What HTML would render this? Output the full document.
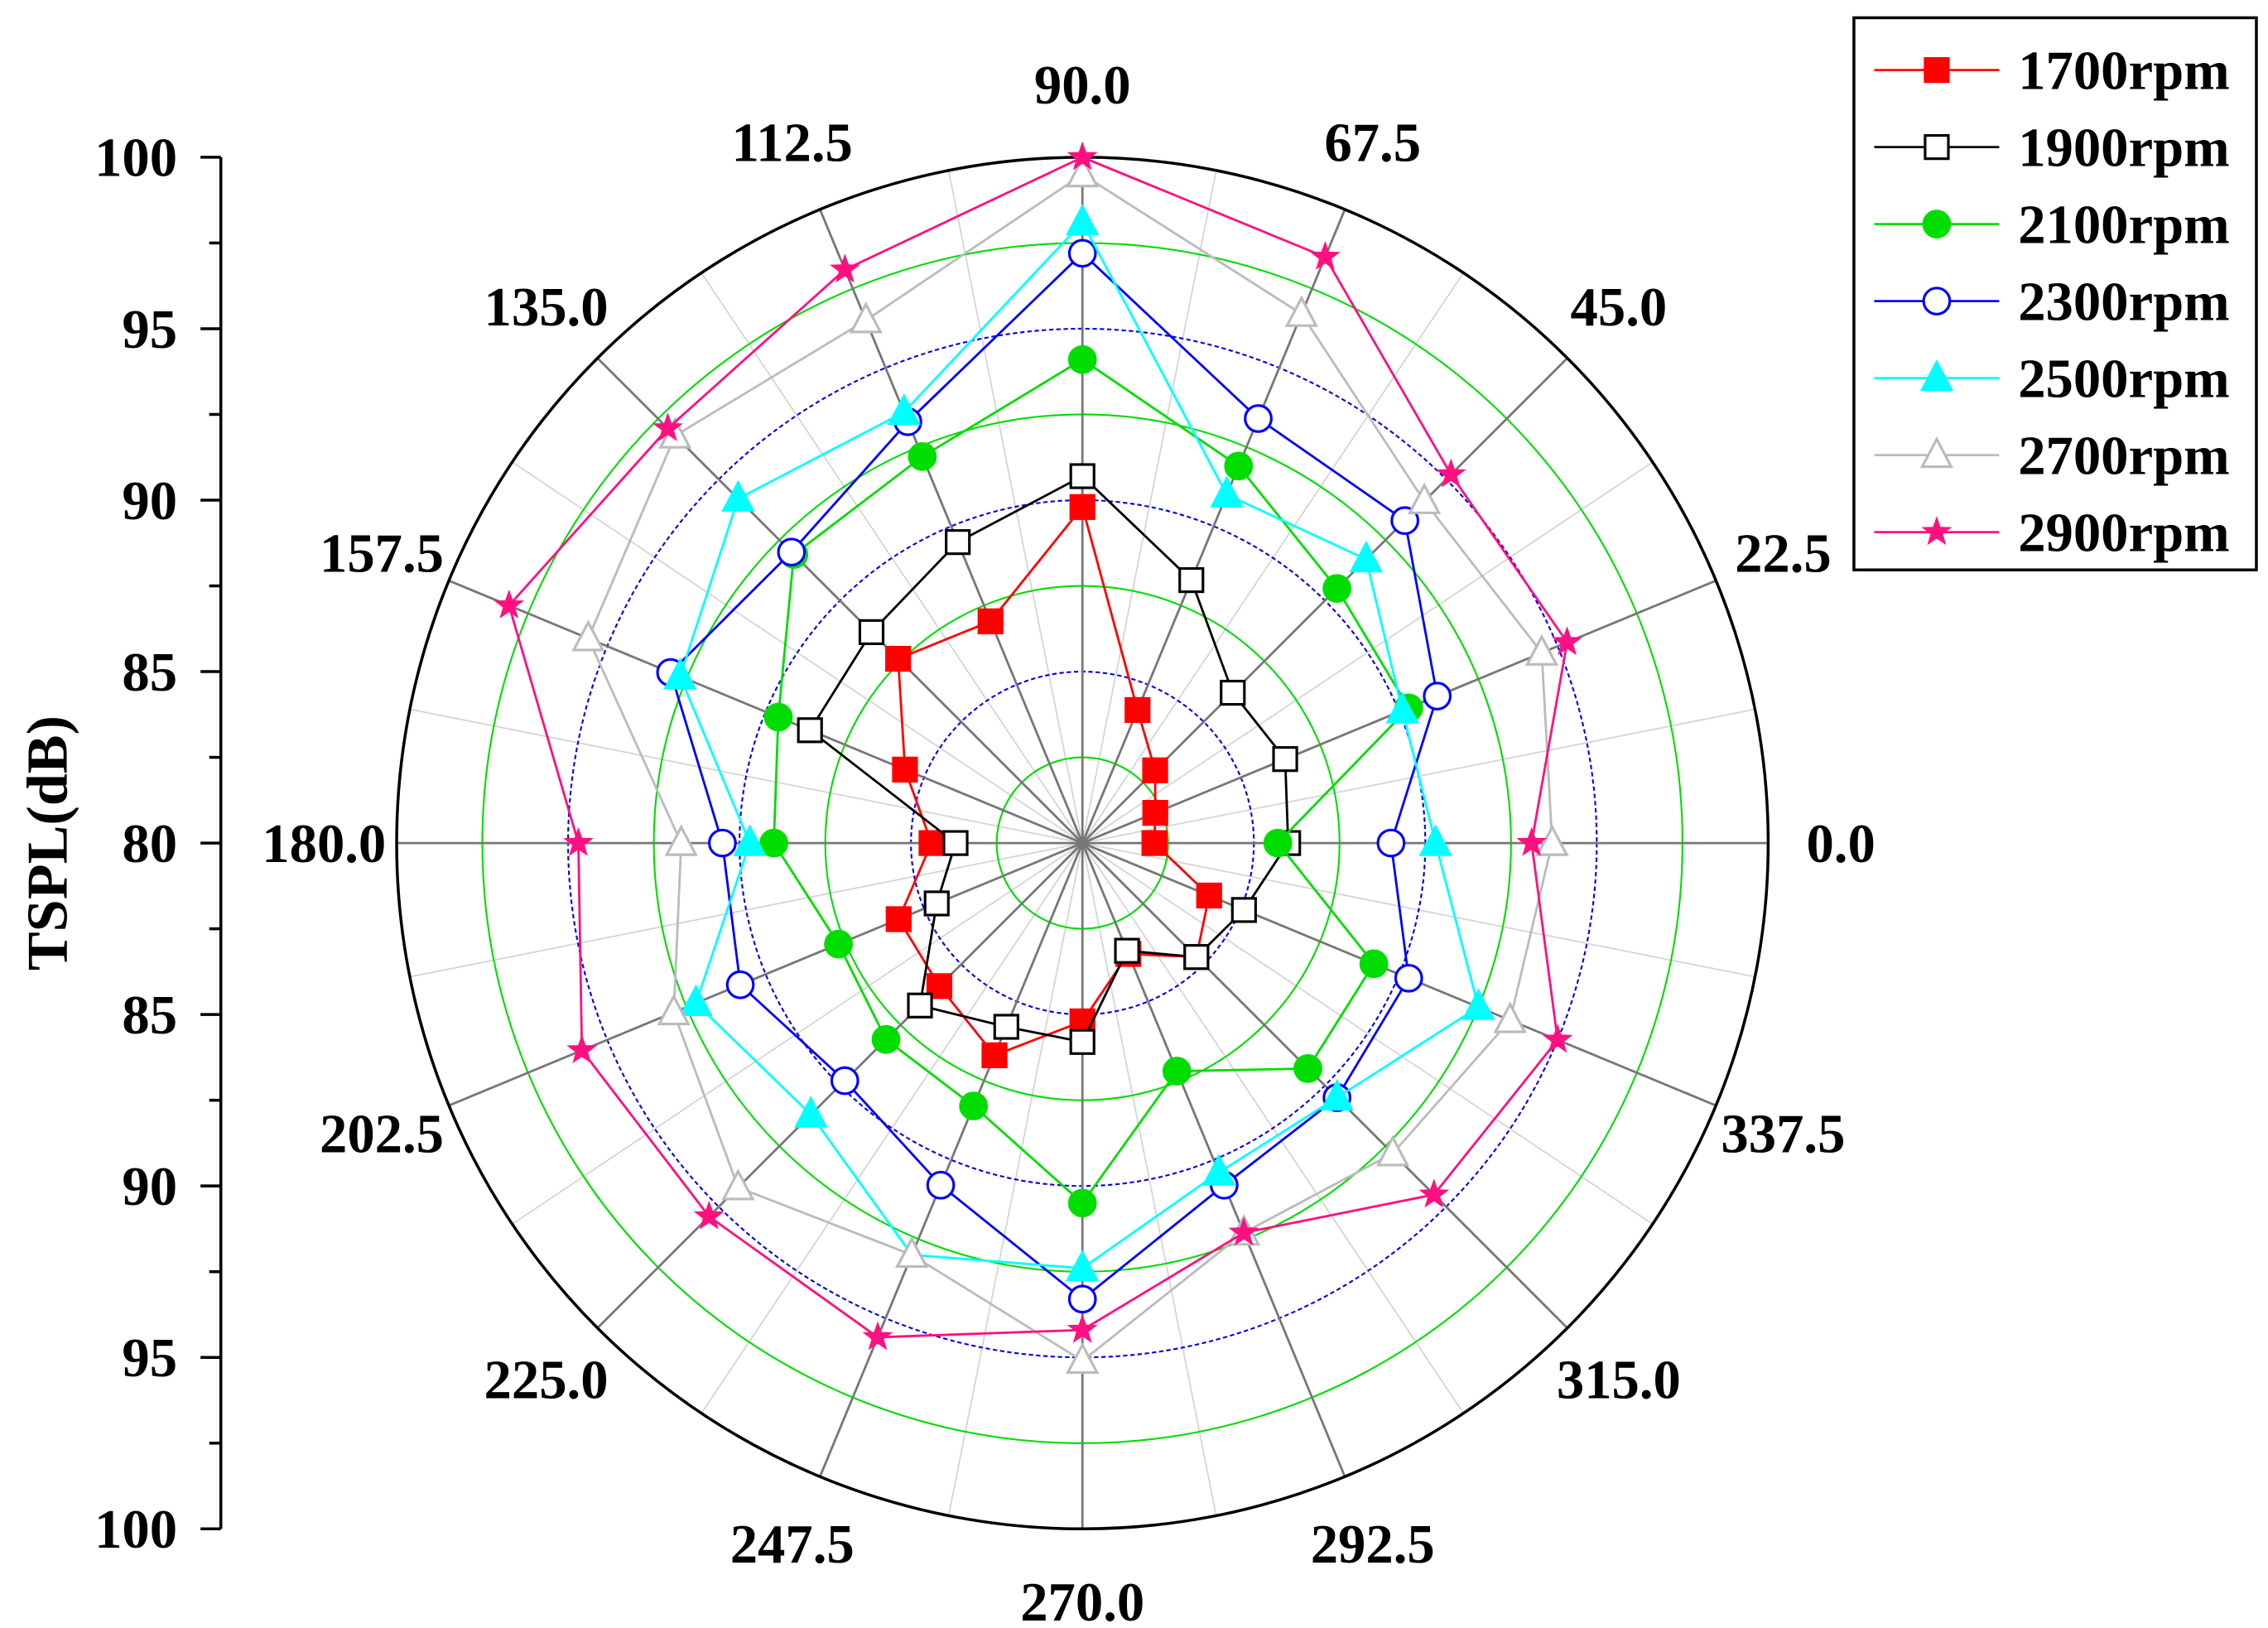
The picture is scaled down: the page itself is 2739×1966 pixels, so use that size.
<!DOCTYPE html>
<html><head><meta charset="utf-8"><style>
html,body{margin:0;padding:0;background:#fff}
svg{display:block}
text{font-family:"Liberation Serif",serif;font-weight:bold}
</style></head><body>
<svg id="chart" width="2739" height="1966" viewBox="0 0 1561 1120" xmlns="http://www.w3.org/2000/svg">
<g id="grid"></g>
<g id="axis"></g>
<g id="series"></g>
<g id="legend"></g>
</svg>
<script>
const angles = [0,22.5,45,67.5,90,112.5,135,157.5,180,202.5,225,247.5,270,292.5,315,337.5];
const angleLabels = ["0.0","22.5","45.0","67.5","90.0","112.5","135.0","157.5","180.0","202.5","225.0","247.5","270.0","292.5","315.0","337.5"];
const seriesNames = ["1700rpm","1900rpm","2100rpm","2300rpm","2500rpm","2700rpm","2900rpm"];
const s1700 = [82.1,82.3,83.0,84.2,89.8,87.0,87.6,85.6,84.4,85.8,85.9,86.7,85.2,83.5,84.7,84.0];
const s1900 = [86.0,86.4,86.2,88.3,90.7,89.5,88.7,88.6,83.7,84.6,86.7,85.8,85.8,83.4,84.7,85.1];
const s2100 = [85.7,90.3,90.5,91.9,94.1,92.2,91.9,89.6,89.0,87.7,88.1,88.3,90.5,87.2,89.3,89.2];
const s2300 = [89.0,91.2,93.3,93.4,97.2,93.3,92.0,93.0,90.5,90.8,89.8,90.8,93.3,90.8,90.5,90.3];
const s2500 = [90.3,90.1,91.7,91.0,98.1,93.6,94.2,92.7,89.7,92.2,91.2,93.0,92.4,90.4,90.5,92.5];
const s2700 = [93.7,94.5,94.1,96.7,99.5,96.5,96.8,95.6,91.7,92.9,94.2,93.0,95.1,92.3,92.8,93.5];
const s2900 = [93.1,95.3,95.2,98.5,100,98.1,97.1,98.1,94.7,95.8,95.4,95.6,94.2,92.3,94.5,95.0];
const radialTicks = [100,95,90,85,80,85,90,95,100];

const NS="http://www.w3.org/2000/svg";
const CX=745, CY=580, R=472, RMIN=80, RMAX=100;
function rScale(v){return (v-RMIN)/(RMAX-RMIN)*R;}
function pt(a,v){const t=a*Math.PI/180, r=rScale(v);return [CX+r*Math.cos(t), CY-r*Math.sin(t)];}
function mk(tag,attrs,parent){const e=document.createElementNS(NS,tag);for(const k in attrs)e.setAttribute(k,attrs[k]);parent.appendChild(e);return e;}

const grid=document.getElementById('grid');
for(let i=0;i<16;i++){const a=angles[i]+11.25;const p=pt(a,RMAX);
 const l=mk('line',{x1:CX,y1:CY,x2:p[0],y2:p[1],stroke:'#d4d4d4','stroke-width':1},grid);
 
 }
[[82.5,'#00dd00','none'],[87.5,'#00dd00','none'],[92.5,'#00dd00','none'],[97.5,'#00dd00','none'],[85,'#0000ee','3,2'],[90,'#0000ee','3,2'],[95,'#0000ee','3,2']].forEach(r=>{
 const c=mk('circle',{cx:CX,cy:CY,r:rScale(r[0]),fill:'none',stroke:r[1],'stroke-width':1.2,'stroke-dasharray':r[2]},grid);
 
 });
angles.forEach((a,i)=>{const p=pt(a,RMAX);
 const l=mk('line',{x1:CX,y1:CY,x2:p[0],y2:p[1],stroke:'#777','stroke-width':1.6},grid);
 
 
 const t=a*Math.PI/180, lr=522;
 const x=CX+lr*Math.cos(t), y=CY-lr*Math.sin(t);
 const tx=mk('text',{x:x,y:y+13,'text-anchor':'middle','font-size':38},grid);
 tx.textContent=angleLabels[i];
 
 });
const oc=mk('circle',{cx:CX,cy:CY,r:R,fill:'none',stroke:'#000','stroke-width':2},grid);



const ax=document.getElementById('axis');
const AX=152;
const al=mk('line',{x1:AX,y1:CY-R,x2:AX,y2:CY+R,stroke:'#000','stroke-width':2},ax);


radialTicks.forEach((v,i)=>{const y=CY-R+i*R/4;
 const tk=mk('line',{x1:AX-14,y1:y,x2:AX,y2:y,stroke:'#000','stroke-width':2},ax);
 
 
 if(i<8){const m=mk('line',{x1:AX-8,y1:y+R/8,x2:AX,y2:y+R/8,stroke:'#000','stroke-width':2},ax);
  
  }
 const t=mk('text',{x:AX-30,y:y+13,'text-anchor':'end','font-size':38},ax);
 t.textContent=v;
 
 });
const yt=mk('text',{x:0,y:0,transform:'translate(46,580) rotate(-90)','text-anchor':'middle','font-size':40},ax);
yt.textContent='TSPL(dB)';



const colors=['#ff0000','#000000','#00dd00','#0000ff','#00ffff','#bbbbbb','#ff1080'];
const markers=['sq','osq','dot','ocirc','tri','otri','star'];
const data=[s1700,s1900,s2100,s2300,s2500,s2700,s2900];
function marker(g,type,x,y,col){let e;
 if(type==='sq'||type==='osq')e=mk('rect',{x:x-8,y:y-8,width:16,height:16,fill:type==='sq'?col:'#fff',stroke:col,'stroke-width':1.8},g);
 else if(type==='dot'||type==='ocirc')e=mk('circle',{cx:x,cy:y,r:9,fill:type==='dot'?col:'#fff',stroke:col,'stroke-width':1.8},g);
 else if(type==='tri'||type==='otri')e=mk('polygon',{points:`${x},${y-11} ${x+10},${y+8} ${x-10},${y+8}`,fill:type==='tri'?col:'#fff',stroke:col,'stroke-width':1.8},g);
 else {let p=[];for(let k=0;k<10;k++){const r=k%2?4.5:11,t=-Math.PI/2+k*Math.PI/5;p.push((x+r*Math.cos(t)).toFixed(1)+','+(y+r*Math.sin(t)).toFixed(1));}
  e=mk('polygon',{points:p.join(' '),fill:col},g);}
 return e;}
const sg=document.getElementById('series');
data.forEach((arr,si)=>{const g=mk('g',{},sg);
 
 
 const pts=arr.map((v,i)=>pt(angles[i],v));
 const pl=mk('polygon',{points:pts.map(p=>p.join(',')).join(' '),fill:'none',stroke:colors[si],'stroke-width':1.6},g);
 
 
 pts.forEach(p=>{const m=marker(g,markers[si],p[0],p[1],colors[si]);
  
  });});

const lg=document.getElementById('legend');
const box=mk('rect',{x:1276,y:12,width:277,height:380,fill:'#fff',stroke:'#000','stroke-width':2},lg);


seriesNames.forEach((n,i)=>{const y=48+i*53;const g=mk('g',{},lg);
 
 
 mk('line',{x1:1290,y1:y,x2:1376,y2:y,stroke:colors[i],'stroke-width':1.6},g);
 marker(g,markers[i],1333,y,colors[i]);
 const t=mk('text',{x:1389,y:y+13,'font-size':38},g);t.textContent=n;});
</script>
</body></html>
